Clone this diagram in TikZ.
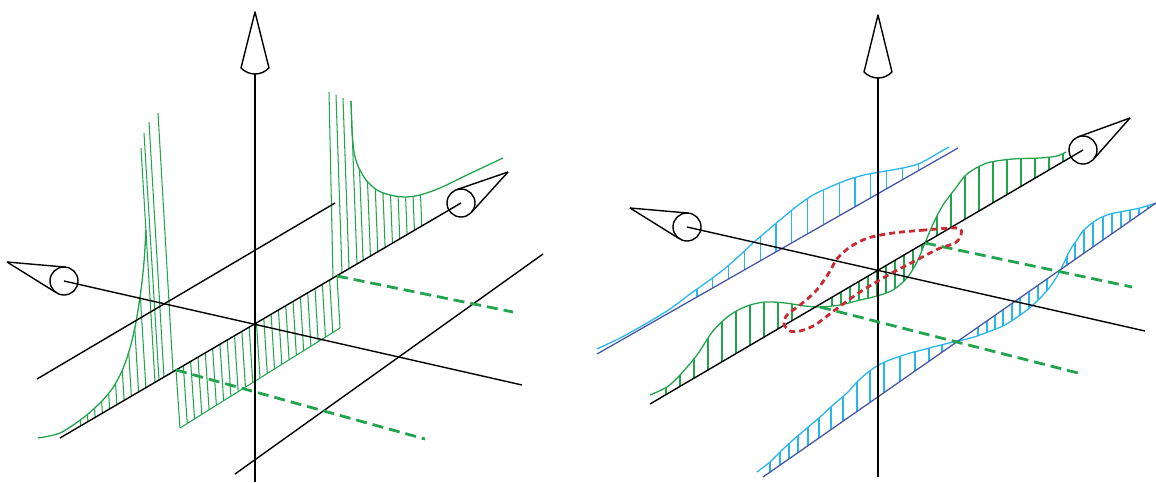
\documentclass[tikz,border=0pt]{standalone}
\usetikzlibrary{calc}

\definecolor{wavegreen}{RGB}{34,163,78}
\definecolor{wavecyan}{RGB}{41,182,238}
\definecolor{lineblue}{RGB}{72,86,168}
\definecolor{loopred}{RGB}{200,42,52}

\tikzset{
  axisline/.style={line width=1.4pt, black, line join=round},
  conebase/.style={circle, draw, line width=1.4pt, minimum size=28pt, inner sep=0pt, outer sep=0pt},
  wave/.style={line width=1.3pt},
  hatchline/.style={line width=1.05pt},
  nodeline/.style={wavegreen, line width=2.8pt, dash pattern=on 11pt off 6pt},
  loopline/.style={loopred, line width=2.8pt, dash pattern=on 6pt off 4pt},
}

% #1 curve points, #2 closing path, #3 hatch x (at y=482), #4 tilt, #5 colour
\newcommand{\hatchwave}[5]{%
  \begin{scope}
    \clip plot[smooth] coordinates {#1} #2;
    \foreach \x in {#3} \draw[#5, hatchline] (\x,482) -- ++({-#4*482},-482);
  \end{scope}
  \draw[#5, wave] plot[smooth] coordinates {#1};
}

% #1 cone node, #2 tip coordinate
\newcommand{\axiscone}[2]{%
  \draw[axisline] (#2) -- (tangent cs:node=#1,point={(#2)},solution=1);
  \draw[axisline] (#2) -- (tangent cs:node=#1,point={(#2)},solution=2);
}

\begin{document}
\begin{tikzpicture}[x=1pt, y=-1pt]
    \useasboundingbox (0,0) rectangle (1156,482);

    % ================= Left panel =================
    \coordinate (O1) at (255,324);
    \coordinate (tipU1) at (255,12);
    \coordinate (baseU1) at (255,74);
    \coordinate (bottomV1) at (255,482);
    \coordinate (tipL1) at (7,262);
    \coordinate (endA1) at (522,385);
    \coordinate (startB1) at (60,438);
    \coordinate (tipR1) at (508,172);
    \coordinate (backS1) at (37,379);
    \coordinate (backE1) at (335,203);
    \coordinate (frontS1) at (235,474);
    \coordinate (frontE1) at (543,254);

    % corners of the hatched strip below the axis
    \coordinate (PA) at (176,370);
    \coordinate (PB) at (337,276);
    \coordinate (PC) at (180,428);
    \coordinate (PD) at (340,328);

    \node[conebase] (coneL1) at (64,281) {};
    \node[conebase] (coneR1) at (461,203) {};

    % left branch (rising to infinity)
    \hatchwave{(38,438) (60,433) (83,418) (100,403) (112,389) (122,371) (130,348) (136,322) (141,290) (144,262) (146,230)}
      {-- (155,382) -- (startB1) -- cycle}{84,91.5,...,154}{0.06}{wavegreen}
    \draw[wavegreen, hatchline] (155,382) -- (141,148);
    \draw[wavegreen, hatchline] (159,380) -- (144,133);
    \draw[wavegreen, hatchline] (164,377) -- (149,122);
    \draw[wavegreen, hatchline] (173,371) -- (158,113);

    % strip below the axis
    \foreach \k in {0,...,22}
      \draw[wavegreen, hatchline] ($(PA)!\k/22!(PB)$) -- ($(PC)!\k/22!(PD)$);
    \draw[wavegreen, hatchline] (PC) -- (PD);

    % right branch
    \hatchwave{(351,101) (352,130) (354,152) (358,166) (366,180) (377,190) (390,195) (405,197) (420,195) (440,188) (467,175) (503,158)}
      {-- (503,178) -- (357,264) -- cycle}{372,379.5,...,432}{0.04}{wavegreen}
    \draw[wavegreen, hatchline] (333,278) -- (329,92);
    \draw[wavegreen, hatchline] (342,273) -- (336,95);
    \draw[wavegreen, hatchline] (349,269) -- (343,98);
    \draw[wavegreen, hatchline] (357,264) -- (351,101);

    % axes and grid lines
    \draw[axisline] (tipU1) -- (241,68) .. controls (249,76) and (261,76) .. (269,68) -- cycle;
    \draw[axisline] (baseU1) -- (bottomV1);
    \draw[axisline] (coneL1.center) -- (endA1);
    \draw[axisline] (startB1) -- (coneR1.center);
    \draw[axisline] (backS1) -- (backE1);
    \draw[axisline] (frontS1) -- (frontE1);
    \axiscone{coneL1}{tipL1}
    \axiscone{coneR1}{tipR1}

    \draw[nodeline] (PA) -- (425,439);
    \draw[nodeline] (PB) -- (513,312);

    % ================= Right panel =================
    \coordinate (O2) at (878,270);
    \coordinate (tipU2) at (878,15);
    \coordinate (baseU2) at (878,78);
    \coordinate (bottomV2) at (878,477);
    \coordinate (tipL2) at (630,208);
    \coordinate (endA2) at (1145,331);
    \coordinate (startB2) at (650,404);
    \coordinate (tipR2) at (1130,118);
    \coordinate (backS2) at (597,354);
    \coordinate (backE2) at (958,148);
    \coordinate (frontS2) at (763,477);
    \coordinate (frontE2) at (1156,203);
    \coordinate (nodeA) at (820,307);
    \coordinate (nodeB) at (925,243);

    \node[conebase] (coneL2) at (687,227) {};
    \node[conebase] (coneR2) at (1083,150) {};

    % back wave
    \hatchwave{(597,349) (622,337) (647,323) (670,309) (690,294) (707,282) (723,270) (738,257) (753,243) (767,231) (780,220) (797,206) (813,195) (830,187) (847,180) (864,175) (880,172) (903,168) (918,164) (930,158) (940,152) (949,147)}
      {-- (backE2) -- (backS2) -- cycle}{697,712.8,...,920}{0}{wavecyan}
    \draw[lineblue, wave] (backS2) -- (backE2);

    % middle wave
    \hatchwave{(650,395) (667,387) (680,375) (697,355) (713,331) (730,315) (747,306) (765,302) (785,303) (805,306) (820,307) (840,305) (860,300) (877,296) (893,290) (907,278) (917,262) (925,243) (933,224) (943,205) (955,189) (967,174) (987,163) (1013,159) (1040,158) (1057,156) (1066,152)}
      {-- (1066,160) -- (startB2) -- cycle}{666,680,...,796,832,841,...,922,937,951,...,1063}{0}{wavegreen}

    % front wave
    \hatchwave{(757,472) (770,462) (780,452) (793,440) (807,428) (820,417) (833,405) (847,393) (857,382) (867,373) (877,366) (887,361) (898,357) (910,353) (922,350) (933,347) (945,344) (957,341) (967,339) (977,336) (993,330) (1003,326) (1013,320) (1023,313) (1033,305) (1043,295) (1050,287) (1056,278) (1062,267) (1070,250) (1077,240) (1083,231) (1092,223) (1100,218) (1110,214) (1120,212) (1130,210) (1140,208) (1156,203)}
      {-- (frontS2) -- cycle}{770,780,789,798,808,819,831,843,857,870,884,900,915,929,942,978,987,995,1003,1012,1020,1029,1038,1047,1067,1075,1084,1093,1103,1112,1121,1130,1139,1148}{0}{wavecyan}
    \draw[lineblue, wave] (frontS2) -- (frontE2);

    % axes
    \draw[axisline] (tipU2) -- (864,72) .. controls (872,80) and (884,80) .. (892,72) -- cycle;
    \draw[axisline] (baseU2) -- (bottomV2);
    \draw[axisline] (coneL2.center) -- (endA2);
    \draw[axisline] (startB2) -- (coneR2.center);
    \axiscone{coneL2}{tipL2}
    \axiscone{coneR2}{tipR2}

    \draw[nodeline] (nodeA) -- (1078,373);
    \draw[nodeline] (nodeB) -- (1132,287);

    % closed loop round the origin
    \draw[loopline] plot[smooth cycle] coordinates {(958,228) (925,230) (893,233) (868,238) (850,247) (837,259) (827,276) (815,292) (800,305) (787,315) (784,324) (790,331) (800,331) (815,325) (835,310) (860,292) (890,274) (913,262) (938,249) (955,243) (961,235)};

\end{tikzpicture}
\end{document}
